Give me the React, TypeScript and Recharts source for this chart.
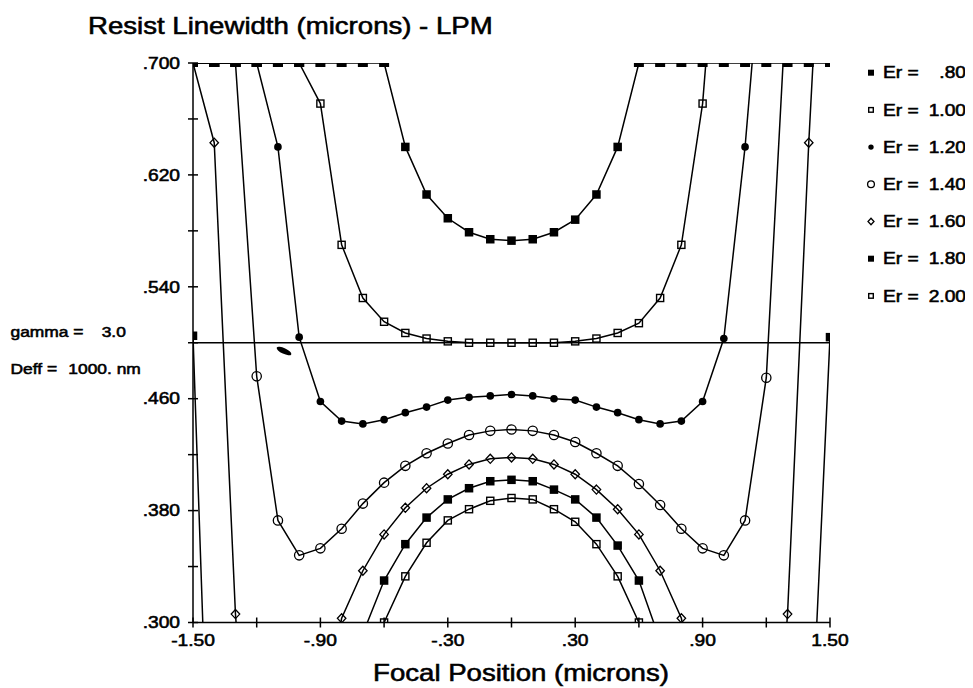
import React from "react";
import { LineChart, Line, XAxis, YAxis, ReferenceLine } from "recharts";

const ink = "#000";
const font = "'Liberation Sans', Arial, Helvetica, sans-serif";

// focal positions (microns)
const focus = [
  -1.5, -1.4, -1.3, -1.2, -1.1, -1.0, -0.9, -0.8, -0.7, -0.6, -0.5, -0.4, -0.3, -0.2, -0.1, 0,
  0.1, 0.2, 0.3, 0.4, 0.5, 0.6, 0.7, 0.8, 0.9, 1.0, 1.1, 1.2, 1.3, 1.4, 1.5,
];

// resist linewidth per exposure ratio; .700 = full pitch, values off the axis are rough guesses
const er080 = [
  0.7, 0.7, 0.7, 0.7, 0.7, 0.7, 0.7, 0.7, 0.7, 0.7, 0.64, 0.606, 0.589, 0.579, 0.574, 0.573,
  0.574, 0.579, 0.588, 0.606, 0.64, 0.7, 0.7, 0.7, 0.7, 0.7, 0.7, 0.7, 0.7, 0.7, 0.7,
];
const er100 = [
  0.7, 0.7, 0.7, 0.7, 0.7, 0.7, 0.671, 0.57, 0.532, 0.515, 0.507, 0.503, 0.501, 0.5, 0.5, 0.5,
  0.5, 0.5, 0.501, 0.503, 0.507, 0.514, 0.532, 0.57, 0.671, 0.86, 0.95, 0.95, 0.95, 0.95, 0.95,
];
const er120 = [
  0.7, 0.7, 0.7, 0.7, 0.64, 0.504, 0.458, 0.444, 0.442, 0.445, 0.45, 0.454, 0.459, 0.461, 0.462, 0.463,
  0.462, 0.46, 0.459, 0.454, 0.45, 0.445, 0.442, 0.444, 0.458, 0.503, 0.64, 0.82, 0.95, 0.95, 0.95,
];
const er140 = [
  0.7, 0.7, 0.7, 0.476, 0.373, 0.348, 0.353, 0.367, 0.385, 0.4, 0.412, 0.421, 0.428, 0.434, 0.437, 0.438,
  0.437, 0.434, 0.429, 0.421, 0.412, 0.399, 0.384, 0.367, 0.353, 0.348, 0.373, 0.475, 0.76, 0.95, 0.95,
];
const er160 = [
  0.7, 0.643, 0.306, 0.1, 0.05, 0.1, 0.22, 0.303, 0.337, 0.363, 0.382, 0.396, 0.406, 0.413, 0.417, 0.418,
  0.417, 0.413, 0.406, 0.395, 0.381, 0.363, 0.337, 0.303, 0.22, 0.1, 0.05, 0.1, 0.306, 0.643, 0.93,
];
const er180 = [
  0.505, 0.06, 0.04, 0.04, 0.05, 0.08, 0.15, 0.22, 0.292, 0.33, 0.356, 0.375, 0.388, 0.396, 0.401, 0.402,
  0.401, 0.395, 0.388, 0.375, 0.355, 0.33, 0.287, 0.22, 0.15, 0.08, 0.05, 0.04, 0.06, 0.175, 0.504,
];
const er200 = [
  0.1, 0.04, 0.03, 0.03, 0.04, 0.06, 0.12, 0.18, 0.25, 0.3, 0.333, 0.357, 0.373, 0.381, 0.387, 0.389,
  0.388, 0.381, 0.372, 0.356, 0.333, 0.3, 0.25, 0.18, 0.12, 0.06, 0.04, 0.03, 0.03, 0.04, 0.1,
];

const erLabels = [".80", "1.00", "1.20", "1.40", "1.60", "1.80", "2.00"];
const xTicks = [-1.5, -1.2, -0.9, -0.6, -0.3, 0, 0.3, 0.6, 0.9, 1.2, 1.5];
const xLabelled = [-1.5, -0.9, -0.3, 0.3, 0.9, 1.5];
const yTicks = [0.3, 0.34, 0.38, 0.42, 0.46, 0.5, 0.54, 0.58, 0.62, 0.66, 0.7];
const yLabelled = [0.3, 0.38, 0.46, 0.54, 0.62, 0.7];
const ceiling = 0.7;
const boundary = 0.5;

type Shape = "sqFill" | "sqOpen" | "dotFill" | "dotOpen" | "diamond";

const series: { key: string; values: number[]; shape: Shape }[] = [
  { key: "er080", values: er080, shape: "sqFill" },
  { key: "er100", values: er100, shape: "sqOpen" },
  { key: "er120", values: er120, shape: "dotFill" },
  { key: "er140", values: er140, shape: "dotOpen" },
  { key: "er160", values: er160, shape: "diamond" },
  { key: "er180", values: er180, shape: "sqFill" },
  { key: "er200", values: er200, shape: "sqOpen" },
];

const rows = focus.map((x, i) => {
  const r: Record<string, number> = { x };
  series.forEach((s) => (r[s.key] = s.values[i]));
  return r;
});

const near = (list: number[], v: number) => list.some((t) => Math.abs(t - v) < 1e-6);

function fmtX(v: number) {
  const s = Math.abs(v).toFixed(2).replace(/^0/, "");
  return v < 0 ? `-${s}` : s;
}

function Marker({ shape, cx, cy, s }: { shape: Shape; cx: number; cy: number; s: number }) {
  const h = s / 2;
  switch (shape) {
    case "sqFill":
      return <rect x={cx - h} y={cy - h} width={s} height={s} fill={ink} />;
    case "sqOpen":
      return <rect x={cx - h + 0.7} y={cy - h + 0.7} width={s - 1.4} height={s - 1.4} fill="none" stroke={ink} strokeWidth={1.4} />;
    case "dotFill":
      return <circle cx={cx} cy={cy} r={h * 0.9} fill={ink} />;
    case "dotOpen":
      return <circle cx={cx} cy={cy} r={h + 0.4} fill="none" stroke={ink} strokeWidth={1.3} />;
    default:
      return (
        <path
          d={`M${cx},${cy - h - 0.3} L${cx + h},${cy} L${cx},${cy + h + 0.3} L${cx - h},${cy} Z`}
          fill="none"
          stroke={ink}
          strokeWidth={1.3}
        />
      );
  }
}

const makeDot = (shape: Shape) => (p: any) => {
  const { cx, cy, value, index } = p;
  if (cx == null || cy == null || value == null) return <g key={index} />;
  if (value === ceiling) {
    return <rect key={index} x={cx - 5} y={cy - 4} width={10} height={8} fill={ink} />;
  }
  return (
    <g key={index}>
      <Marker shape={shape} cx={cx} cy={cy} s={8.5} />
    </g>
  );
};

const textStyle = { fontFamily: font, fill: ink, stroke: ink, strokeWidth: 0.55 } as const;

const LeftTick = (p: any) => {
  const { x, y, payload } = p;
  const v = payload.value as number;
  return (
    <g>
      <line x1={x - 5} x2={x + 5} y1={y} y2={y} stroke={ink} strokeWidth={1.5} />
      {near(yLabelled, v) && (
        <text transform={`translate(${x - 13},${y}) scale(1.2,1)`} textAnchor="end" dy="0.36em" fontSize={16} style={textStyle}>
          {v.toFixed(3).replace(/^0/, "")}
        </text>
      )}
    </g>
  );
};

const RightTick = (p: any) => {
  const { x, y } = p;
  return <line x1={x - 5} x2={x + 6} y1={y} y2={y} stroke={ink} strokeWidth={1.5} />;
};

const BottomTick = (p: any) => {
  const { x, y, payload } = p;
  const v = payload.value as number;
  return (
    <g>
      <line x1={x} x2={x} y1={y - 5} y2={y + 5} stroke={ink} strokeWidth={1.5} />
      {near(xLabelled, v) && (
        <text transform={`translate(${x},${y + 18}) scale(1.2,1)`} textAnchor="middle" dy="0.36em" fontSize={16} style={textStyle}>
          {fmtX(v)}
        </text>
      )}
    </g>
  );
};

function Overlay() {
  const t = (x: number, y: number, s: number, str: string, anchor = "start") => (
    <text transform={`translate(${x},${y}) scale(1.2,1)`} textAnchor={anchor} dy="0.36em" fontSize={s} style={textStyle}>
      {str}
    </text>
  );
  return (
    <svg width={965} height={680} style={{ position: "absolute", left: 0, top: 0, pointerEvents: "none" }}>
      {t(80, 18, 23, "Resist Linewidth (microns) - LPM")}
      {t(513, 665, 23, "Focal Position (microns)", "middle")}
      {t(2.5, 324, 14.5, "gamma =")}
      {t(93.7, 324, 14.5, "3.0")}
      {t(2.5, 361, 14.5, "Deff =")}
      {t(60.3, 361, 14.5, "1000. nm")}
      <ellipse cx={276} cy={343} rx={8} ry={2.8} fill={ink} transform="rotate(25 276 343)" />
      {series.map((s, i) => {
        const cy = 64.7 + i * 37.2;
        return (
          <g key={s.key}>
            <Marker shape={s.shape} cx={863} cy={cy} s={6} />
            {t(875, cy, 16, "Er =")}
            {t(958, cy, 16, erLabels[i], "end")}
          </g>
        );
      })}
    </svg>
  );
}

export default function App() {
  return (
    <div style={{ position: "relative", width: 965, height: 680, background: "#fff" }}>
      <LineChart width={965} height={680} data={rows} margin={{ top: 55, right: 143, bottom: 5.5, left: 0 }}>
        <XAxis
          dataKey="x"
          type="number"
          domain={[-1.5, 1.5]}
          ticks={xTicks}
          interval={0}
          allowDataOverflow
          height={60}
          tickSize={0}
          tickMargin={0}
          tickLine={false}
          axisLine={{ stroke: ink, strokeWidth: 1.5 }}
          tick={BottomTick}
        />
        <XAxis
          xAxisId="top"
          orientation="top"
          dataKey="x"
          type="number"
          domain={[-1.5, 1.5]}
          allowDataOverflow
          height={0}
          tick={false}
          tickLine={false}
          axisLine={{ stroke: ink, strokeWidth: 1.5 }}
        />
        <YAxis
          type="number"
          domain={[0.3, 0.7]}
          ticks={yTicks}
          interval={0}
          allowDataOverflow
          width={185}
          tickSize={0}
          tickMargin={0}
          tickLine={false}
          axisLine={{ stroke: ink, strokeWidth: 1.5 }}
          tick={LeftTick}
        />
        <YAxis
          yAxisId="right"
          orientation="right"
          type="number"
          domain={[0.3, 0.7]}
          ticks={yTicks}
          interval={0}
          allowDataOverflow
          width={0}
          tickSize={0}
          tickMargin={0}
          tickLine={false}
          axisLine={{ stroke: ink, strokeWidth: 1.5 }}
          tick={RightTick}
        />
        <ReferenceLine y={boundary} stroke={ink} strokeWidth={1.5} />
        {series.map((s) => (
          <Line
            key={s.key}
            dataKey={s.key}
            type="linear"
            stroke={ink}
            strokeWidth={1.5}
            dot={makeDot(s.shape)}
            activeDot={false}
            isAnimationActive={false}
          />
        ))}
      </LineChart>
      <Overlay />
    </div>
  );
}
